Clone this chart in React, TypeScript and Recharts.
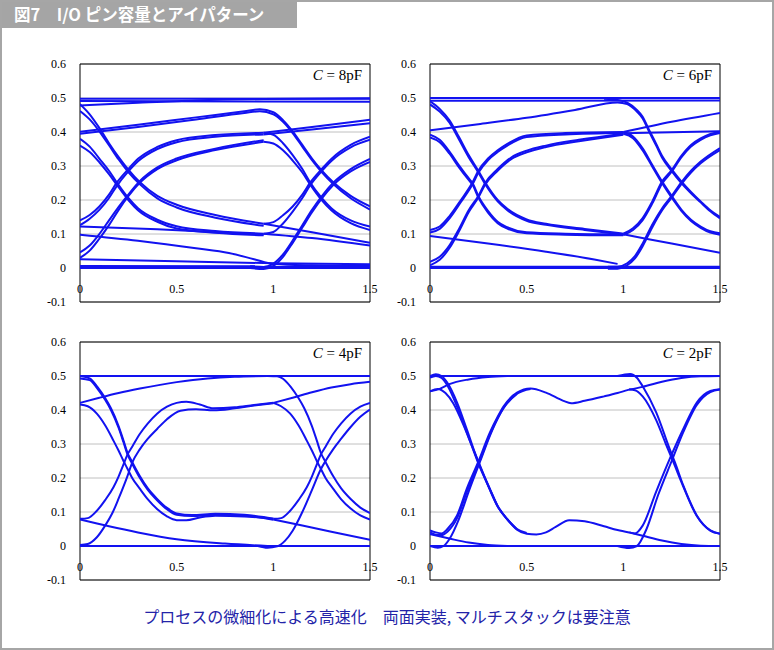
import React from 'react';
import { LineChart, Line, XAxis, YAxis, CartesianGrid, ReferenceArea } from 'recharts';

type Pt = [number, number];

const xTicks = [0, 0.5, 1, 1.5];
const yTicks = [-0.1, 0, 0.1, 0.2, 0.3, 0.4, 0.5, 0.6];
const capLabels = ['8pF', '6pF', '4pF', '2pF'];

// C = 8pF
const eye8pF: Pt[][] = [
  [[0, 0.498], [1.5, 0.498]],
  [[0, 0.491], [1.5, 0.489]],
  [[0, 0.478], [0.3, 0.486], [0.6, 0.493], [0.95, 0.497], [1.5, 0.499]],
  [[0, 0.401], [0.3, 0.421], [0.6, 0.443], [0.85, 0.461], [0.93, 0.467], [1, 0.458], [1.05, 0.435], [1.1, 0.402], [1.15, 0.362], [1.2, 0.322], [1.25, 0.287], [1.31, 0.252], [1.4, 0.212], [1.5, 0.181]],
  [[0, 0.395], [0.3, 0.415], [0.6, 0.437], [0.85, 0.456], [0.93, 0.461], [1, 0.452], [1.05, 0.43], [1.1, 0.397], [1.15, 0.357], [1.2, 0.317], [1.25, 0.282], [1.31, 0.247], [1.4, 0.205], [1.5, 0.172]],
  [[0, 0.482], [0.05, 0.452], [0.1, 0.412], [0.15, 0.367], [0.2, 0.326], [0.25, 0.289], [0.31, 0.252], [0.4, 0.212], [0.5, 0.186], [0.7, 0.156], [0.95, 0.13]],
  [[0, 0.462], [0.05, 0.437], [0.1, 0.402], [0.15, 0.361], [0.2, 0.319], [0.25, 0.282], [0.31, 0.246], [0.4, 0.205], [0.5, 0.178], [0.7, 0.148], [0.95, 0.124]],
  [[0, 0.38], [0.05, 0.357], [0.1, 0.322], [0.15, 0.286], [0.19, 0.252], [0.25, 0.206], [0.3, 0.176], [0.4, 0.142], [0.5, 0.123], [0.7, 0.109], [0.95, 0.101]],
  [[0, 0.36], [0.05, 0.341], [0.1, 0.311], [0.15, 0.276], [0.19, 0.245], [0.25, 0.2], [0.3, 0.17], [0.4, 0.136], [0.5, 0.116], [0.7, 0.104], [0.95, 0.096]],
  [[0, 0.14], [0.05, 0.156], [0.1, 0.181], [0.15, 0.216], [0.19, 0.251], [0.25, 0.291], [0.3, 0.321], [0.4, 0.356], [0.5, 0.376], [0.7, 0.391], [0.95, 0.398]],
  [[0, 0.126], [0.05, 0.145], [0.1, 0.171], [0.15, 0.206], [0.19, 0.241], [0.25, 0.284], [0.3, 0.314], [0.4, 0.35], [0.5, 0.37], [0.7, 0.386], [0.95, 0.393]],
  [[0, 0.03], [0.05, 0.051], [0.1, 0.086], [0.15, 0.126], [0.2, 0.171], [0.25, 0.211], [0.31, 0.251], [0.4, 0.291], [0.5, 0.317], [0.7, 0.347], [0.95, 0.371]],
  [[0, 0.046], [0.05, 0.066], [0.1, 0.1], [0.15, 0.14], [0.2, 0.18], [0.25, 0.216], [0.31, 0.256], [0.4, 0.296], [0.5, 0.322], [0.7, 0.351], [0.95, 0.376]],
  [[0.95, 0.398], [1, 0.392], [1.05, 0.367], [1.1, 0.332], [1.15, 0.291], [1.19, 0.252], [1.25, 0.206], [1.3, 0.176], [1.4, 0.14], [1.5, 0.122]],
  [[0.95, 0.371], [1, 0.366], [1.05, 0.346], [1.1, 0.316], [1.15, 0.281], [1.19, 0.246], [1.25, 0.2], [1.3, 0.17], [1.4, 0.132], [1.5, 0.112]],
  [[0.95, 0.398], [1.2, 0.415], [1.5, 0.436]],
  [[0.95, 0.393], [1.2, 0.407], [1.5, 0.426]],
  [[0.95, 0.13], [1, 0.135], [1.05, 0.155], [1.1, 0.181], [1.15, 0.216], [1.19, 0.251], [1.25, 0.291], [1.3, 0.321], [1.4, 0.362], [1.5, 0.386]],
  [[0.95, 0.101], [1, 0.106], [1.05, 0.131], [1.1, 0.166], [1.15, 0.206], [1.19, 0.243], [1.25, 0.285], [1.3, 0.315], [1.4, 0.355], [1.5, 0.377]],
  [[0.88, 0.005], [0.95, 0.003], [1, 0.013], [1.05, 0.04], [1.1, 0.081], [1.15, 0.126], [1.2, 0.171], [1.25, 0.211], [1.31, 0.251], [1.4, 0.291], [1.5, 0.321]],
  [[0.88, 0], [0.95, -0.003], [1, 0.006], [1.05, 0.033], [1.1, 0.074], [1.15, 0.119], [1.2, 0.164], [1.25, 0.204], [1.31, 0.244], [1.4, 0.284], [1.5, 0.312]],
  [[0.95, 0.13], [1.2, 0.105], [1.5, 0.074]],
  [[0.95, 0.101], [1.2, 0.088], [1.5, 0.066]],
  [[0, 0.122], [0.4, 0.114], [0.77, 0.103], [0.95, 0.099]],
  [[0, 0.098], [0.3, 0.08], [0.6, 0.058], [0.77, 0.044], [0.9, 0.026], [1, 0.012], [1.2, 0.008], [1.5, 0.006]],
  [[0, 0.026], [0.5, 0.02], [1, 0.014], [1.5, 0.011]],
  [[0, 0.006], [1.5, 0.005]],
  [[0, 0], [1.5, 0]],
];

// C = 6pF
const eye6pF: Pt[][] = [
  [[0, 0.5], [1.5, 0.5]],
  [[0, 0.492], [1.5, 0.493]],
  [[0, 0.405], [0.25, 0.423], [0.5, 0.442], [0.75, 0.465], [0.97, 0.487], [1.02, 0.482], [1.07, 0.46], [1.1, 0.44], [1.13, 0.405], [1.17, 0.36], [1.2, 0.325], [1.25, 0.285], [1.3, 0.25], [1.35, 0.22], [1.4, 0.193], [1.45, 0.167], [1.5, 0.146]],
  [[0.9, 0.498], [0.97, 0.494], [1.02, 0.486], [1.07, 0.465], [1.1, 0.445], [1.13, 0.41], [1.17, 0.365], [1.2, 0.33], [1.25, 0.29], [1.3, 0.255], [1.35, 0.224], [1.4, 0.196], [1.45, 0.17], [1.5, 0.15]],
  [[0, 0.49], [0.05, 0.468], [0.1, 0.435], [0.15, 0.385], [0.2, 0.332], [0.25, 0.286], [0.285, 0.252], [0.35, 0.2], [0.4, 0.174], [0.5, 0.143], [0.6, 0.13], [0.8, 0.115], [1, 0.101]],
  [[0, 0.481], [0.05, 0.46], [0.1, 0.428], [0.15, 0.378], [0.2, 0.326], [0.25, 0.281], [0.285, 0.247], [0.35, 0.196], [0.4, 0.17], [0.5, 0.139], [0.6, 0.127], [0.8, 0.112], [1, 0.098]],
  [[0, 0.392], [0.05, 0.377], [0.1, 0.343], [0.15, 0.302], [0.2, 0.264], [0.22, 0.25], [0.25, 0.212], [0.3, 0.168], [0.35, 0.136], [0.4, 0.12], [0.5, 0.105], [0.7, 0.101], [1, 0.099]],
  [[0, 0.384], [0.05, 0.37], [0.1, 0.337], [0.15, 0.296], [0.2, 0.259], [0.22, 0.245], [0.25, 0.207], [0.3, 0.163], [0.35, 0.132], [0.4, 0.116], [0.5, 0.102], [0.7, 0.098], [1, 0.096]],
  [[0, 0.112], [0.05, 0.122], [0.1, 0.152], [0.16, 0.2], [0.22, 0.252], [0.25, 0.286], [0.3, 0.322], [0.35, 0.346], [0.4, 0.365], [0.5, 0.39], [0.7, 0.397], [1, 0.4]],
  [[0, 0.104], [0.05, 0.115], [0.1, 0.145], [0.16, 0.194], [0.22, 0.246], [0.25, 0.28], [0.3, 0.317], [0.35, 0.341], [0.4, 0.36], [0.5, 0.385], [0.7, 0.393], [1, 0.397]],
  [[0, 0.018], [0.05, 0.033], [0.1, 0.066], [0.15, 0.115], [0.2, 0.17], [0.25, 0.212], [0.285, 0.25], [0.35, 0.291], [0.42, 0.325], [0.5, 0.345], [0.6, 0.36], [0.77, 0.377], [1, 0.395]],
  [[0, 0.008], [0.05, 0.024], [0.1, 0.058], [0.15, 0.108], [0.2, 0.164], [0.25, 0.207], [0.285, 0.245], [0.35, 0.286], [0.42, 0.32], [0.5, 0.34], [0.6, 0.356], [0.77, 0.373], [1, 0.392]],
  [[1, 0.4], [1.05, 0.387], [1.1, 0.352], [1.15, 0.303], [1.2, 0.255], [1.25, 0.212], [1.3, 0.172], [1.35, 0.142], [1.4, 0.122], [1.45, 0.108], [1.5, 0.102]],
  [[1, 0.395], [1.05, 0.382], [1.1, 0.346], [1.15, 0.298], [1.2, 0.25], [1.25, 0.207], [1.3, 0.168], [1.35, 0.138], [1.4, 0.118], [1.45, 0.104], [1.5, 0.098]],
  [[1, 0.4], [1.25, 0.43], [1.5, 0.456]],
  [[1, 0.396], [1.25, 0.399], [1.5, 0.402]],
  [[1, 0.101], [1.05, 0.117], [1.1, 0.147], [1.15, 0.196], [1.2, 0.254], [1.25, 0.288], [1.3, 0.33], [1.35, 0.362], [1.4, 0.381], [1.45, 0.394], [1.5, 0.4]],
  [[1, 0.097], [1.05, 0.112], [1.1, 0.141], [1.15, 0.19], [1.2, 0.248], [1.25, 0.283], [1.3, 0.325], [1.35, 0.357], [1.4, 0.377], [1.45, 0.39], [1.5, 0.397]],
  [[0.92, 0.004], [0.97, 0.004], [1.02, 0.014], [1.06, 0.035], [1.1, 0.072], [1.15, 0.128], [1.2, 0.175], [1.25, 0.212], [1.3, 0.252], [1.35, 0.286], [1.4, 0.313], [1.5, 0.353]],
  [[0.92, -0.002], [0.97, -0.002], [1.02, 0.008], [1.06, 0.028], [1.1, 0.064], [1.15, 0.12], [1.2, 0.169], [1.25, 0.207], [1.3, 0.247], [1.35, 0.281], [1.4, 0.308], [1.5, 0.347]],
  [[0, 0.094], [0.3, 0.072], [0.6, 0.048], [0.85, 0.025], [0.97, 0.012]],
  [[1, 0.099], [1.25, 0.072], [1.5, 0.045]],
  [[0, 0.004], [1.5, 0.004]],
  [[0, 0], [1.5, 0]],
];

// C = 4pF
const eye4pF: Pt[][] = [
  [[0, 0.5], [1.5, 0.5]],
  [[0, 0], [1.5, 0]],
  [[0, 0.421], [0.1, 0.436], [0.2, 0.45], [0.31, 0.463], [0.5, 0.482], [0.66, 0.493], [0.8, 0.498], [0.97, 0.5]],
  [[1, 0.421], [1.1, 0.436], [1.2, 0.452], [1.3, 0.466], [1.4, 0.476], [1.5, 0.483]],
  [[0, 0.078], [0.15, 0.058], [0.3, 0.04], [0.5, 0.02], [0.75, 0.007], [0.97, 0]],
  [[1, 0.078], [1.15, 0.06], [1.3, 0.042], [1.5, 0.018]],
  [[0, 0.5], [0.05, 0.493], [0.09, 0.468], [0.13, 0.435], [0.16, 0.405], [0.2, 0.352], [0.225, 0.31], [0.245, 0.275], [0.27, 0.247], [0.31, 0.205], [0.35, 0.17], [0.4, 0.138], [0.45, 0.112], [0.5, 0.096], [0.58, 0.091], [0.7, 0.095], [0.85, 0.092], [0.95, 0.085], [1, 0.08]],
  [[0, 0.493], [0.05, 0.488], [0.09, 0.463], [0.13, 0.43], [0.16, 0.4], [0.2, 0.347], [0.225, 0.305], [0.245, 0.27], [0.27, 0.242], [0.31, 0.2], [0.35, 0.166], [0.4, 0.134], [0.45, 0.108], [0.5, 0.092], [0.58, 0.088], [0.7, 0.092], [0.85, 0.089], [0.95, 0.082], [1, 0.077]],
  [[0, 0.416], [0.04, 0.411], [0.086, 0.39], [0.13, 0.355], [0.173, 0.31], [0.2, 0.28], [0.225, 0.25], [0.245, 0.228], [0.27, 0.2], [0.31, 0.168], [0.35, 0.138], [0.4, 0.108], [0.45, 0.087], [0.5, 0.076], [0.55, 0.076], [0.62, 0.084], [0.7, 0.089], [0.85, 0.087], [1, 0.08]],
  [[0, 0.08], [0.04, 0.082], [0.086, 0.103], [0.13, 0.135], [0.173, 0.173], [0.2, 0.205], [0.225, 0.24], [0.245, 0.268], [0.27, 0.292], [0.31, 0.33], [0.35, 0.36], [0.4, 0.39], [0.45, 0.41], [0.5, 0.421], [0.55, 0.424], [0.62, 0.416], [0.69, 0.405], [0.8, 0.408], [0.9, 0.415], [1, 0.421]],
  [[0, 0.003], [0.04, 0.006], [0.086, 0.025], [0.13, 0.06], [0.17, 0.1], [0.2, 0.14], [0.245, 0.205], [0.27, 0.245], [0.31, 0.285], [0.35, 0.315], [0.4, 0.345], [0.45, 0.373], [0.52, 0.398], [0.6, 0.402], [0.69, 0.399], [0.8, 0.405], [0.9, 0.413], [1, 0.42]],
  [[0.97, 0.5], [1.02, 0.499], [1.05, 0.492], [1.09, 0.468], [1.13, 0.435], [1.16, 0.405], [1.2, 0.352], [1.225, 0.31], [1.245, 0.275], [1.27, 0.247], [1.31, 0.205], [1.35, 0.17], [1.4, 0.138], [1.45, 0.113], [1.5, 0.097]],
  [[1, 0.421], [1.04, 0.411], [1.086, 0.39], [1.13, 0.355], [1.173, 0.31], [1.2, 0.28], [1.225, 0.25], [1.245, 0.228], [1.27, 0.2], [1.31, 0.168], [1.35, 0.138], [1.4, 0.11], [1.45, 0.09], [1.5, 0.078]],
  [[1, 0.08], [1.04, 0.082], [1.086, 0.103], [1.13, 0.135], [1.173, 0.173], [1.2, 0.205], [1.225, 0.24], [1.245, 0.268], [1.27, 0.292], [1.31, 0.33], [1.35, 0.36], [1.4, 0.39], [1.45, 0.41], [1.5, 0.421]],
  [[0.92, 0], [0.97, -0.005], [1.02, -0.001], [1.06, 0.015], [1.1, 0.045], [1.15, 0.1], [1.2, 0.165], [1.245, 0.225], [1.27, 0.25], [1.31, 0.285], [1.35, 0.315], [1.4, 0.35], [1.45, 0.38], [1.5, 0.401]],
];

// C = 2pF
const eye2pF: Pt[][] = [
  [[0, 0.5], [1.5, 0.5]],
  [[0, 0], [1.5, 0]],
  [[0, 0.455], [0.05, 0.462], [0.1, 0.476], [0.2, 0.49], [0.3, 0.497], [0.4, 0.5]],
  [[1.03, 0.46], [1.1, 0.468], [1.2, 0.483], [1.3, 0.494], [1.4, 0.499], [1.5, 0.5]],
  [[0, 0.035], [0.1, 0.022], [0.2, 0.01], [0.3, 0.003], [0.4, 0]],
  [[1.03, 0.04], [1.1, 0.03], [1.2, 0.016], [1.3, 0.006], [1.4, 0.001], [1.5, 0]],
  [[0, 0.5], [0.03, 0.505], [0.06, 0.5], [0.09, 0.48], [0.14, 0.422], [0.19, 0.344], [0.25, 0.246], [0.31, 0.168], [0.35, 0.118], [0.4, 0.078], [0.45, 0.048], [0.5, 0.036], [0.55, 0.034], [0.6, 0.04], [0.65, 0.056], [0.72, 0.076], [0.8, 0.073], [0.9, 0.058], [0.97, 0.047], [1.03, 0.04]],
  [[0, 0.455], [0.04, 0.462], [0.08, 0.45], [0.12, 0.42], [0.17, 0.36], [0.22, 0.29], [0.26, 0.235], [0.31, 0.165], [0.35, 0.116], [0.4, 0.078], [0.45, 0.05], [0.5, 0.038]],
  [[0, 0.495], [0.03, 0.5], [0.06, 0.494], [0.09, 0.472], [0.14, 0.41], [0.19, 0.335], [0.25, 0.243], [0.31, 0.166], [0.35, 0.117], [0.4, 0.079], [0.45, 0.049]],
  [[0, 0.046], [0.03, 0.04], [0.06, 0.037], [0.09, 0.05], [0.14, 0.09], [0.19, 0.168], [0.25, 0.248], [0.31, 0.334], [0.35, 0.38], [0.38, 0.41], [0.45, 0.451], [0.52, 0.463], [0.6, 0.451], [0.69, 0.427], [0.73, 0.42], [0.8, 0.427], [0.9, 0.44], [0.97, 0.45], [1.03, 0.46]],
  [[0, 0], [0.04, -0.005], [0.07, 0], [0.1, 0.02], [0.15, 0.08], [0.2, 0.16], [0.26, 0.25], [0.32, 0.338], [0.38, 0.405], [0.45, 0.448], [0.52, 0.462]],
  [[0, 0.04], [0.03, 0.033], [0.06, 0.032], [0.09, 0.042], [0.14, 0.082], [0.19, 0.158], [0.25, 0.24], [0.31, 0.328], [0.38, 0.406], [0.45, 0.448]],
  [[0.97, 0.5], [1.035, 0.506], [1.07, 0.495], [1.1, 0.47], [1.17, 0.393], [1.24, 0.285], [1.267, 0.246], [1.31, 0.178], [1.38, 0.09], [1.45, 0.046], [1.5, 0.036]],
  [[1.03, 0.46], [1.06, 0.458], [1.1, 0.44], [1.17, 0.37], [1.22, 0.3], [1.26, 0.245], [1.31, 0.175], [1.38, 0.088], [1.45, 0.045], [1.5, 0.036]],
  [[1.03, 0.04], [1.06, 0.037], [1.1, 0.06], [1.17, 0.16], [1.24, 0.256], [1.31, 0.344], [1.38, 0.422], [1.45, 0.456], [1.5, 0.461]],
  [[0.97, 0], [1.03, -0.006], [1.07, 0], [1.12, 0.05], [1.18, 0.15], [1.25, 0.25], [1.31, 0.335], [1.38, 0.415], [1.45, 0.453], [1.5, 0.46]],
];

const BLUE = '#1212f0';
const SERIF = '"Liberation Serif", "Times New Roman", serif';
const PW = 290; // plot width
const PH = 238; // plot height
const MT = 10;
const YW = 40;
const MR = 12;
const XH = 20;
const Y0 = MT + (PH * 0.6) / 0.7; // pixel row of y = 0

// horizontal grid: grey, except the y = 0 line which is the black x axis
const hLine = (p: any) => (
  <line
    key={`h${p.index}`}
    x1={p.x1}
    x2={p.x2}
    y1={p.y1}
    y2={p.y2}
    stroke={Math.abs(p.y1 - Y0) < 1 ? '#000' : '#c0c0c0'}
    strokeWidth={1}
  />
);

// vertical grid used only for the small tick marks on the y = 0 axis
const vLine = (p: any) =>
  p.x1 > YW + 1 && p.x1 < YW + PW - 1 ? (
    <line key={`v${p.index}`} x1={p.x1} x2={p.x1} y1={Y0} y2={Y0 - 4} stroke="#000" strokeWidth={1} />
  ) : (
    <g key={`v${p.index}`} />
  );

function EyePanel({ left, top, traces, cap }: { left: number; top: number; traces: Pt[][]; cap: string }) {
  return (
    <div style={{ position: 'absolute', left: left - YW, top: top - MT, width: YW + PW + MR, height: MT + PH + XH }}>
      <LineChart width={YW + PW + MR} height={MT + PH + XH} margin={{ top: MT, right: MR, bottom: 0, left: 0 }}>
        <CartesianGrid horizontal={hLine} vertical={vLine} />
        <XAxis
          type="number"
          dataKey="x"
          domain={[0, 1.5]}
          ticks={xTicks}
          interval={0}
          allowDataOverflow
          axisLine={false}
          tickLine={false}
          tick={false}
          height={XH}
        />
        <YAxis
          type="number"
          domain={[-0.1, 0.6]}
          ticks={yTicks}
          interval={0}
          allowDataOverflow
          width={YW}
          axisLine={false}
          tickLine={false}
          tickMargin={8}
          tick={{ fontSize: 12, fill: '#000', fontFamily: SERIF }}
          tickFormatter={(v: number) => String(v)}
        />
        {traces.map((t, i) => (
          <Line
            key={i}
            data={t.map(([x, y]) => ({ x, y }))}
            dataKey="y"
            type="monotone"
            stroke={BLUE}
            strokeWidth={2}
            dot={false}
            activeDot={false}
            isAnimationActive={false}
          />
        ))}
        <ReferenceArea x1={0} x2={1.5} y1={-0.1} y2={0.6} fill="none" stroke="#000" strokeWidth={1} />
      </LineChart>
      {/* x labels sit just under the y=0 line, like Excel does */}
      {xTicks.map((v) => (
        <div
          key={`xl${v}`}
          style={{
            position: 'absolute',
            left: YW + (PW * v) / 1.5 - 20,
            width: 40,
            top: Y0 + 14,
            textAlign: 'center',
            fontFamily: SERIF,
            fontSize: 12,
            lineHeight: '14px',
            color: '#000',
          }}
        >
          {String(v)}
        </div>
      ))}
      <div
        style={{
          position: 'absolute',
          left: YW,
          width: PW - 8,
          top: MT + 4,
          textAlign: 'right',
          fontFamily: SERIF,
          fontSize: 15,
          lineHeight: '15px',
          color: '#000',
        }}
      >
        <span style={{ fontStyle: 'italic' }}>C</span> = {cap}
      </div>
    </div>
  );
}

export default function App() {
  return (
    <div
      style={{
        position: 'absolute',
        left: 0,
        top: 0,
        width: 774,
        height: 650,
        boxSizing: 'border-box',
        border: '2px solid #a6a6a6',
        background: '#fff',
        overflow: 'hidden',
      }}
    >
      <div
        style={{
          position: 'absolute',
          left: -2,
          top: -2,
          width: 297,
          height: 28,
          background: '#a5a5a5',
          color: '#fff',
          fontFamily: '"Noto Sans CJK JP", sans-serif',
          fontWeight: 'bold',
          fontSize: 16.5,
          lineHeight: '28px',
          paddingLeft: 14,
          boxSizing: 'border-box',
          whiteSpace: 'nowrap',
        }}
      >
        図7　I/O ピン容量とアイパターン
      </div>
      <div style={{ position: 'absolute', left: -2, top: -2 }}>
        <EyePanel left={80} top={64} traces={eye8pF} cap={capLabels[0]} />
        <EyePanel left={430} top={64} traces={eye6pF} cap={capLabels[1]} />
        <EyePanel left={80} top={342} traces={eye4pF} cap={capLabels[2]} />
        <EyePanel left={430} top={342} traces={eye2pF} cap={capLabels[3]} />
      </div>
      <div
        style={{
          position: 'absolute',
          left: -2,
          top: 602,
          width: 774,
          textAlign: 'center',
          fontFamily: '"Noto Sans CJK JP", sans-serif',
          fontSize: 16,
          lineHeight: '24px',
          color: '#2323a8',
          whiteSpace: 'nowrap',
        }}
      >
        プロセスの微細化による高速化　両面実装, マルチスタックは要注意
      </div>
    </div>
  );
}
